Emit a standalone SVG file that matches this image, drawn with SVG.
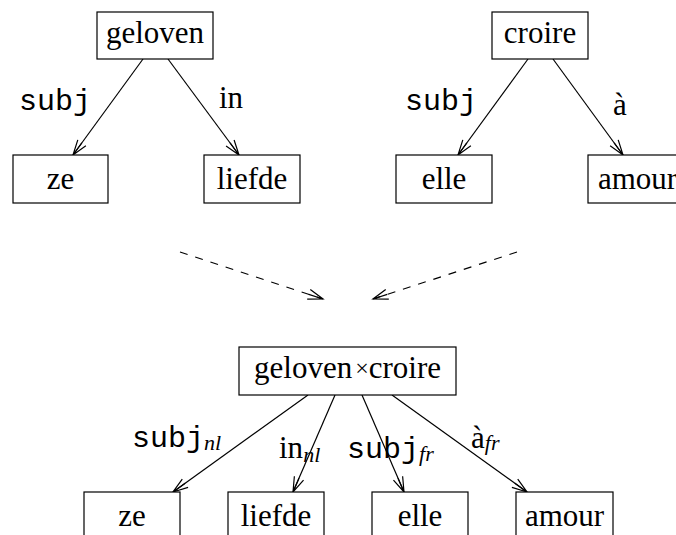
<svg xmlns="http://www.w3.org/2000/svg" width="676" height="535" viewBox="0 0 676 535">
<style>
.box{fill:#fff;stroke:#000;stroke-width:1.2}
.t{font-family:"Liberation Serif","Times New Roman",serif;font-size:31px;text-anchor:middle;fill:#000}
.m{font-family:"Liberation Mono","Courier New",monospace;font-size:30px;fill:#000}
.s{font-family:"Liberation Serif","Times New Roman",serif;font-size:31px;fill:#000}
.sub{font-family:"Liberation Serif","Times New Roman",serif;font-size:22px;font-style:italic;fill:#000}
.e{stroke:#000;stroke-width:1.2;fill:none;marker-end:url(#a)}
.d{stroke:#000;stroke-width:1.2;fill:none;stroke-dasharray:8,8;marker-end:url(#a)}
</style>
<defs>
<marker id="a" markerUnits="userSpaceOnUse" markerWidth="20" markerHeight="20" viewBox="-18 -8 20 16" refX="0" refY="0" orient="auto">
<path d="M-15,-5 L0,0 L-15,5 M0,0 L-15,0" stroke="#000" stroke-width="1.2" fill="none"/>
</marker>
</defs>
<g id="connectors">
<line class="e" x1="143" y1="59" x2="73" y2="155"/>
<line class="e" x1="168" y1="59" x2="239" y2="155"/>
<line class="e" x1="528" y1="59" x2="458" y2="155"/>
<line class="e" x1="553" y1="59" x2="623" y2="155"/>
<line class="d" x1="180" y1="252" x2="323" y2="299"/>
<line class="d" x1="517" y1="252" x2="373" y2="299"/>
<line class="e" x1="308" y1="395" x2="173" y2="492"/>
<line class="e" x1="335" y1="395" x2="293" y2="492"/>
<line class="e" x1="362" y1="395" x2="404" y2="492"/>
<line class="e" x1="392" y1="395" x2="527" y2="492"/>
<text class="m" x="19" y="110">subj</text>
<text class="s" x="219" y="108">in</text>
<text class="m" x="405" y="110">subj</text>
<text class="s" x="613" y="115">à</text>
<text x="132" y="447"><tspan class="m">subj</tspan><tspan class="sub" dy="3">nl</tspan></text>
<text x="279" y="458"><tspan class="s">in</tspan><tspan class="sub" dy="4">nl</tspan></text>
<text x="347" y="458"><tspan class="m">subj</tspan><tspan class="sub" dy="3">fr</tspan></text>
<text x="471" y="448"><tspan class="s">à</tspan><tspan class="sub" dy="2">fr</tspan></text>
</g>
<g id="geloven"><rect class="box" x="97" y="12" width="116" height="47"/><text class="t" x="155" y="43">geloven</text></g>
<g id="ze1"><rect class="box" x="13" y="155" width="95" height="48"/><text class="t" x="60.5" y="189">ze</text></g>
<g id="liefde1"><rect class="box" x="204" y="155" width="96" height="48"/><text class="t" x="252" y="189">liefde</text></g>
<g id="croire"><rect class="box" x="492" y="12" width="96" height="47"/><text class="t" x="540" y="43">croire</text></g>
<g id="elle1"><rect class="box" x="396" y="155" width="96" height="48"/><text class="t" x="444" y="189">elle</text></g>
<g id="amour1"><rect class="box" x="588" y="155" width="96" height="48"/><text class="t" x="598" y="189" style="text-anchor:start">amour</text></g>
<g id="product"><rect class="box" x="239" y="347" width="217" height="48"/><text class="t" x="347.5" y="378">geloven<tspan font-size="24" dx="3" dy="-2">×</tspan><tspan dy="2">croire</tspan></text></g>
<g id="ze2"><rect class="box" x="84" y="492" width="96" height="50"/><text class="t" x="132" y="526">ze</text></g>
<g id="liefde2"><rect class="box" x="228" y="492" width="96" height="50"/><text class="t" x="276" y="526">liefde</text></g>
<g id="elle2"><rect class="box" x="372" y="492" width="96" height="50"/><text class="t" x="420" y="526">elle</text></g>
<g id="amour2"><rect class="box" x="516" y="492" width="97" height="50"/><text class="t" x="564.5" y="526">amour</text></g>
</svg>
